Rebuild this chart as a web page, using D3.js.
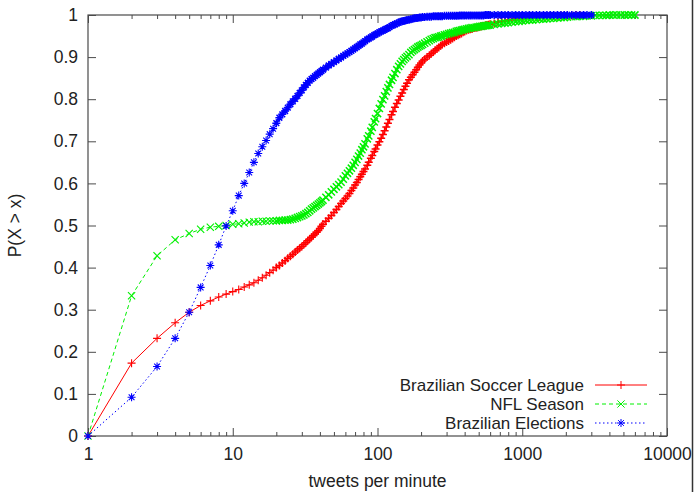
<!DOCTYPE html>
<html>
<head>
<meta charset="utf-8">
<script src="https://cdn.jsdelivr.net/npm/d3@7"></script>
<style>
html,body{margin:0;padding:0;background:#fff;}
svg{display:block;font-family:"Liberation Sans",Arial,Helvetica,sans-serif;}
</style>
</head>
<body>
<svg id="chart" width="695" height="492"></svg>
<script>
// tweets per minute (shared x grid)
const tpm = [1,2,3,4,5,6,7,8,9,10,11,12,13,14,15,16,17,18,19,20,
  21,22,23,24,25,26,27,28,
  29,30,31,32,33,34,35,36,37,38,39,40,41,42,
  44,46,48,50,52,54,56,58,
  60,62,64,66,68,70,72,74,76,78,80,82,85,87,90,92,95,97,100,103,106,109,112,115,118,121,125,128,132,136,140,144,148,152,156,160,165,170,175,180,185,190,195,200,205,
  212,220,228,235,243,250,258,265,273,280,290,
  300,310,320,330,340,350,360,370,380,390,400,
  412,425,437,450,465,480,495,510,525,540,555,570,585,600,
  640,680,720,760,800,
  850,900,950,1000,
  1060,1120,1180,1250,1320,1400,1480,1560,1650,1750,1850,1950,2050,
  2200,2350,2500,2650,2800,3000,
  3200,3400,3600,3800,4000,4250,4500,4800,5100,5400,5700,6000];

const soccer = [0,.173,.232,.269,.294,.310,.321,.330,.337,.343,.348,.354,.359,.364,.370,.376,.382,.388,.394,.400,
  .405,.411,.416,.422,.427,.432,.437,.442,
  .446,.450,.455,.459,.464,.468,.472,.476,.480,.484,.488,.493,.498,.503,
  .510,.517,.524,.531,.538,.545,.552,.558,
  .564,.570,.576,.583,.589,.596,.602,.609,.616,.622,.628,.634,.643,.650,.660,.666,.676,.682,.691,.699,.707,.716,.725,.734,.743,.752,.763,.771,.781,.790,.798,.807,.815,.823,.831,.838,.846,.852,.858,.864,.870,.876,.881,.886,.891,
  .895,.900,.904,.908,.912,.916,.920,.923,.927,.930,.933,
  .936,.938,.941,.944,.947,.950,.952,.954,.956,.959,.961,
  .963,.965,.966,.967,.969,.970,.971,.972,.973,.974,.975,.976,.977,.978,
  .980,.983,.985,.987,.988,
  .990,.991,.992,.993,
  .994,.995,.995,.996,.996,.997,.997,.998,.998,.998,.999,.999,.999,
  .999,1,1,null,null,null,
  null,null,null,null,null,null,null,null,null,null,null,null];

const nfl = [0,.333,.428,.466,.481,.491,.496,.498,.500,.503,.504,.506,.508,.509,.509,.510,.510,.511,.511,.511,
  .512,.512,.513,.513,.514,.515,.517,.519,
  .521,.523,.525,.528,.531,.535,.539,.542,.545,.548,.551,.554,.557,.560,
  .567,.573,.580,.586,.592,.597,.603,.610,
  .618,.624,.630,.636,.643,.650,.657,.665,.672,.680,.687,.694,.706,.713,.724,.733,.746,.754,.766,.778,.789,.799,.808,.818,.827,.835,.845,.852,.861,.870,.878,.884,.890,.894,.898,.902,.906,.911,.915,.918,.921,.924,.926,.928,.930,
  .933,.936,.939,.942,.944,.946,.947,.948,.950,.951,.953,
  .954,.956,.957,.958,.959,.961,.962,.963,.964,.965,.966,
  .967,.968,.969,.970,.970,.971,.972,.973,.973,.974,.975,.975,.976,.976,
  .978,.979,.980,.981,.982,
  .983,.984,.985,.986,
  .987,.988,.988,.989,.990,.990,.991,.992,.992,.993,.994,.994,.995,
  .996,.996,.997,.997,.998,.998,
  .999,.999,.999,.999,1,1,1,1,1,1,1,1];

const elections = [0,.092,.165,.232,.294,.353,.405,.454,.499,.535,.571,.600,.626,.650,.671,.687,.702,.717,.730,.743,
  .756,.764,.772,.780,.788,.795,.801,.808,
  .815,.821,.828,.834,.839,.844,.848,.851,.855,.858,.861,.864,.867,.870,
  .875,.880,.884,.888,.892,.896,.899,.903,
  .906,.909,.912,.915,.918,.921,.924,.927,.930,.932,.935,.938,.942,.944,.947,.949,.952,.954,.956,.959,.961,.963,.965,.967,.969,.971,.974,.976,.978,.980,.982,.984,.985,.986,.987,.988,.989,.990,.991,.992,.993,.993,.994,.994,.995,
  .995,.996,.996,.996,.997,.997,.997,.997,.997,.997,.998,
  .998,.998,.998,.998,.998,.998,.998,.999,.999,.999,.999,
  .999,.999,.999,.999,.999,.999,.999,.999,.999,.999,1,1,1,1,
  1,1,1,1,1,
  1,1,1,1,
  1,1,1,1,1,1,1,1,1,1,1,1,1,
  1,1,1,1,1,1,
  null,null,null,null,null,null,null,null,null,null,null,null];

const seriesNames = ["Brazilian Soccer League","NFL Season","Brazilian Elections"];
const xTickValues = [1,10,100,1000,10000];
const yTickValues = [0,0.1,0.2,0.3,0.4,0.5,0.6,0.7,0.8,0.9,1];

(function(){
const W = 695, H = 492;
const pL = 88, pR = 667, pT = 15, pB = 436;
const svg = d3.select("#chart");

const x = d3.scaleLog().domain([1,10000]).range([pL,pR]);
const y = d3.scaleLinear().domain([0,1]).range([pB,pT]);

const axisColor = "#4a4a4a";
const textColor = "#222";
const fs = 17.5;

const minor = [];
for (let d = 1; d < 10000; d *= 10) for (let k = 2; k <= 9; k++) minor.push(d*k);

svg.append("rect").attr("x",pL).attr("y",pT).attr("width",pR-pL).attr("height",pB-pT)
  .attr("fill","none").attr("stroke",axisColor).attr("stroke-width",1.2);

function styleAxis(g){
  g.select(".domain").remove();
  g.selectAll(".tick line").attr("stroke",axisColor).attr("stroke-width",1);
  g.selectAll(".tick text").attr("fill",textColor).attr("font-size",fs)
   .attr("font-family","'Liberation Sans',Arial,Helvetica,sans-serif");
}

svg.append("g").attr("transform",`translate(0,${pB})`)
  .call(d3.axisBottom(x).tickValues(xTickValues).tickFormat(d3.format("d")).tickSize(-8).tickSizeOuter(0).tickPadding(12))
  .call(styleAxis);
svg.append("g").attr("transform",`translate(0,${pB})`)
  .call(d3.axisBottom(x).tickValues(minor).tickFormat("").tickSize(-4).tickSizeOuter(0))
  .call(styleAxis);
svg.append("g").attr("transform",`translate(0,${pT})`)
  .call(d3.axisTop(x).tickValues(xTickValues).tickFormat("").tickSize(-8).tickSizeOuter(0))
  .call(styleAxis);
svg.append("g").attr("transform",`translate(0,${pT})`)
  .call(d3.axisTop(x).tickValues(minor).tickFormat("").tickSize(-4).tickSizeOuter(0))
  .call(styleAxis);
svg.append("g").attr("transform",`translate(${pL},0)`)
  .call(d3.axisLeft(y).tickValues(yTickValues).tickFormat(d3.format("")).tickSize(-8).tickSizeOuter(0).tickPadding(10))
  .call(styleAxis);
svg.append("g").attr("transform",`translate(${pR},0)`)
  .call(d3.axisRight(y).tickValues(yTickValues).tickFormat("").tickSize(-8).tickSizeOuter(0))
  .call(styleAxis);

svg.append("text").attr("x",(pL+pR)/2).attr("y",487).attr("text-anchor","middle")
  .attr("font-size",fs).attr("fill",textColor).text("tweets per minute");
svg.append("text").attr("transform",`translate(21,${(pT+pB)/2}) rotate(-90)`).attr("text-anchor","middle")
  .attr("font-size",fs).attr("fill",textColor).text("P(X > x)");

svg.append("line").attr("x1",692.5).attr("x2",692.5).attr("y1",0).attr("y2",H)
  .attr("stroke","#333").attr("stroke-width",1.5);

const plus = s => `M${-s},0H${s}M0,${-s}V${s}`;
const cross = s => `M${-s},${-s}L${s},${s}M${-s},${s}L${s},${-s}`;
const star = s => plus(s) + cross(s*0.72);
const styles = [
  {name:seriesNames[0], vals:soccer, color:"#ff0000", dash:null, marker:plus(4)},
  {name:seriesNames[1], vals:nfl, color:"#00f000", dash:"4,3", marker:cross(3.6)},
  {name:seriesNames[2], vals:elections, color:"#0000ff", dash:"1.5,2.5", marker:star(4)}
];

const line = d3.line().defined(d => d.p != null).x(d => x(d.t)).y(d => y(d.p));

styles.forEach(s => {
  const pts = tpm.map((t,i) => ({t, p: s.vals[i] === undefined ? null : s.vals[i]}));
  const g = svg.append("g");
  g.append("path").datum(pts).attr("d",line).attr("fill","none")
    .attr("stroke",s.color).attr("stroke-width",1).attr("stroke-dasharray",s.dash);
  g.selectAll("path.m").data(pts.filter(d => d.p != null)).join("path").attr("class","m")
    .attr("transform",d => `translate(${x(d.t)},${y(d.p)})`)
    .attr("d",s.marker).attr("fill","none").attr("stroke",s.color)
    .attr("stroke-width",d => d.t >= 20 ? 1.5 : 1.1);
});

const fsLeg = 17;
const legY = [385,404,423];
styles.forEach((s,i) => {
  const g = svg.append("g").attr("transform",`translate(0,${legY[i]})`);
  g.append("text").attr("x",584).attr("y",0).attr("dy","0.35em").attr("text-anchor","end")
    .attr("font-size",fsLeg).attr("fill",textColor).text(s.name);
  g.append("line").attr("x1",595).attr("x2",647).attr("y1",0).attr("y2",0)
    .attr("stroke",s.color).attr("stroke-width",1).attr("stroke-dasharray",s.dash);
  g.append("path").attr("transform","translate(621,0)").attr("d",s.marker)
    .attr("fill","none").attr("stroke",s.color).attr("stroke-width",1);
});
})();
</script>
</body>
</html>
